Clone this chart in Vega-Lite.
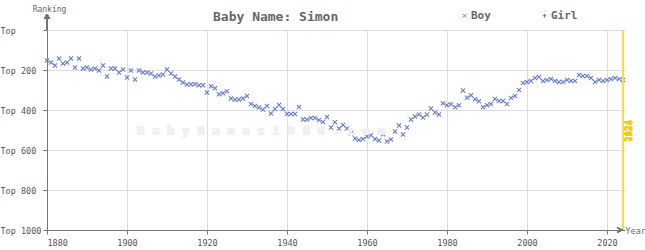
{
  "$schema": "https://vega.github.io/schema/vega-lite/v6.json",
  "width": 578,
  "height": 200,
  "autosize": {"type": "none"},
  "padding": {"left": 47, "top": 30, "right": 20, "bottom": 20},
  "background": "white",
  "title": {
    "text": "Baby Name: Simon",
    "anchor": "start",
    "dx": 213,
    "offset": -19,
    "font": "DejaVu Sans Mono",
    "fontSize": 13,
    "fontWeight": "bold",
    "color": "#666666"
  },
  "config": {
    "view": {"stroke": null},
    "font": "DejaVu Sans Mono"
  },
  "resolve": {"axis": {"x": "independent", "y": "independent"}},
  "data": {
    "values": [
      {"year": 1880, "rank": 152, "sex": "Boy"},
      {"year": 1881, "rank": 162, "sex": "Boy"},
      {"year": 1882, "rank": 177, "sex": "Boy"},
      {"year": 1883, "rank": 142, "sex": "Boy"},
      {"year": 1884, "rank": 167, "sex": "Boy"},
      {"year": 1885, "rank": 162, "sex": "Boy"},
      {"year": 1886, "rank": 142, "sex": "Boy"},
      {"year": 1887, "rank": 187, "sex": "Boy"},
      {"year": 1888, "rank": 142, "sex": "Boy"},
      {"year": 1889, "rank": 192, "sex": "Boy"},
      {"year": 1890, "rank": 187, "sex": "Boy"},
      {"year": 1891, "rank": 197, "sex": "Boy"},
      {"year": 1892, "rank": 192, "sex": "Boy"},
      {"year": 1893, "rank": 202, "sex": "Boy"},
      {"year": 1894, "rank": 177, "sex": "Boy"},
      {"year": 1895, "rank": 232, "sex": "Boy"},
      {"year": 1896, "rank": 192, "sex": "Boy"},
      {"year": 1897, "rank": 192, "sex": "Boy"},
      {"year": 1898, "rank": 212, "sex": "Boy"},
      {"year": 1899, "rank": 197, "sex": "Boy"},
      {"year": 1900, "rank": 237, "sex": "Boy"},
      {"year": 1901, "rank": 202, "sex": "Boy"},
      {"year": 1902, "rank": 247, "sex": "Boy"},
      {"year": 1903, "rank": 202, "sex": "Boy"},
      {"year": 1904, "rank": 212, "sex": "Boy"},
      {"year": 1905, "rank": 212, "sex": "Boy"},
      {"year": 1906, "rank": 217, "sex": "Boy"},
      {"year": 1907, "rank": 232, "sex": "Boy"},
      {"year": 1908, "rank": 227, "sex": "Boy"},
      {"year": 1909, "rank": 222, "sex": "Boy"},
      {"year": 1910, "rank": 197, "sex": "Boy"},
      {"year": 1911, "rank": 217, "sex": "Boy"},
      {"year": 1912, "rank": 232, "sex": "Boy"},
      {"year": 1913, "rank": 247, "sex": "Boy"},
      {"year": 1914, "rank": 262, "sex": "Boy"},
      {"year": 1915, "rank": 272, "sex": "Boy"},
      {"year": 1916, "rank": 271, "sex": "Boy"},
      {"year": 1917, "rank": 271, "sex": "Boy"},
      {"year": 1918, "rank": 276, "sex": "Boy"},
      {"year": 1919, "rank": 276, "sex": "Boy"},
      {"year": 1920, "rank": 312, "sex": "Boy"},
      {"year": 1921, "rank": 281, "sex": "Boy"},
      {"year": 1922, "rank": 291, "sex": "Boy"},
      {"year": 1923, "rank": 321, "sex": "Boy"},
      {"year": 1924, "rank": 316, "sex": "Boy"},
      {"year": 1925, "rank": 306, "sex": "Boy"},
      {"year": 1926, "rank": 342, "sex": "Boy"},
      {"year": 1927, "rank": 347, "sex": "Boy"},
      {"year": 1928, "rank": 347, "sex": "Boy"},
      {"year": 1929, "rank": 342, "sex": "Boy"},
      {"year": 1930, "rank": 330, "sex": "Boy"},
      {"year": 1931, "rank": 370, "sex": "Boy"},
      {"year": 1932, "rank": 380, "sex": "Boy"},
      {"year": 1933, "rank": 387, "sex": "Boy"},
      {"year": 1934, "rank": 397, "sex": "Boy"},
      {"year": 1935, "rank": 380, "sex": "Boy"},
      {"year": 1936, "rank": 417, "sex": "Boy"},
      {"year": 1937, "rank": 395, "sex": "Boy"},
      {"year": 1938, "rank": 375, "sex": "Boy"},
      {"year": 1939, "rank": 395, "sex": "Boy"},
      {"year": 1940, "rank": 420, "sex": "Boy"},
      {"year": 1941, "rank": 420, "sex": "Boy"},
      {"year": 1942, "rank": 420, "sex": "Boy"},
      {"year": 1943, "rank": 385, "sex": "Boy"},
      {"year": 1944, "rank": 447, "sex": "Boy"},
      {"year": 1945, "rank": 447, "sex": "Boy"},
      {"year": 1946, "rank": 440, "sex": "Boy"},
      {"year": 1947, "rank": 440, "sex": "Boy"},
      {"year": 1948, "rank": 450, "sex": "Boy"},
      {"year": 1949, "rank": 460, "sex": "Boy"},
      {"year": 1950, "rank": 435, "sex": "Boy"},
      {"year": 1951, "rank": 487, "sex": "Boy"},
      {"year": 1952, "rank": 461, "sex": "Boy"},
      {"year": 1953, "rank": 492, "sex": "Boy"},
      {"year": 1954, "rank": 475, "sex": "Boy"},
      {"year": 1955, "rank": 492, "sex": "Boy"},
      {"year": 1956, "rank": 516, "sex": "Boy"},
      {"year": 1957, "rank": 542, "sex": "Boy"},
      {"year": 1958, "rank": 550, "sex": "Boy"},
      {"year": 1959, "rank": 545, "sex": "Boy"},
      {"year": 1960, "rank": 532, "sex": "Boy"},
      {"year": 1961, "rank": 526, "sex": "Boy"},
      {"year": 1962, "rank": 545, "sex": "Boy"},
      {"year": 1963, "rank": 552, "sex": "Boy"},
      {"year": 1964, "rank": 521, "sex": "Boy"},
      {"year": 1965, "rank": 557, "sex": "Boy"},
      {"year": 1966, "rank": 547, "sex": "Boy"},
      {"year": 1967, "rank": 507, "sex": "Boy"},
      {"year": 1968, "rank": 477, "sex": "Boy"},
      {"year": 1969, "rank": 522, "sex": "Boy"},
      {"year": 1970, "rank": 487, "sex": "Boy"},
      {"year": 1971, "rank": 447, "sex": "Boy"},
      {"year": 1972, "rank": 432, "sex": "Boy"},
      {"year": 1973, "rank": 422, "sex": "Boy"},
      {"year": 1974, "rank": 437, "sex": "Boy"},
      {"year": 1975, "rank": 422, "sex": "Boy"},
      {"year": 1976, "rank": 392, "sex": "Boy"},
      {"year": 1977, "rank": 412, "sex": "Boy"},
      {"year": 1978, "rank": 422, "sex": "Boy"},
      {"year": 1979, "rank": 366, "sex": "Boy"},
      {"year": 1980, "rank": 376, "sex": "Boy"},
      {"year": 1981, "rank": 371, "sex": "Boy"},
      {"year": 1982, "rank": 386, "sex": "Boy"},
      {"year": 1983, "rank": 376, "sex": "Boy"},
      {"year": 1984, "rank": 302, "sex": "Boy"},
      {"year": 1985, "rank": 339, "sex": "Boy"},
      {"year": 1986, "rank": 326, "sex": "Boy"},
      {"year": 1987, "rank": 346, "sex": "Boy"},
      {"year": 1988, "rank": 356, "sex": "Boy"},
      {"year": 1989, "rank": 386, "sex": "Boy"},
      {"year": 1990, "rank": 376, "sex": "Boy"},
      {"year": 1991, "rank": 370, "sex": "Boy"},
      {"year": 1992, "rank": 345, "sex": "Boy"},
      {"year": 1993, "rank": 355, "sex": "Boy"},
      {"year": 1994, "rank": 355, "sex": "Boy"},
      {"year": 1995, "rank": 370, "sex": "Boy"},
      {"year": 1996, "rank": 340, "sex": "Boy"},
      {"year": 1997, "rank": 330, "sex": "Boy"},
      {"year": 1998, "rank": 300, "sex": "Boy"},
      {"year": 1999, "rank": 265, "sex": "Boy"},
      {"year": 2000, "rank": 260, "sex": "Boy"},
      {"year": 2001, "rank": 255, "sex": "Boy"},
      {"year": 2002, "rank": 240, "sex": "Boy"},
      {"year": 2003, "rank": 235, "sex": "Boy"},
      {"year": 2004, "rank": 255, "sex": "Boy"},
      {"year": 2005, "rank": 250, "sex": "Boy"},
      {"year": 2006, "rank": 245, "sex": "Boy"},
      {"year": 2007, "rank": 255, "sex": "Boy"},
      {"year": 2008, "rank": 260, "sex": "Boy"},
      {"year": 2009, "rank": 260, "sex": "Boy"},
      {"year": 2010, "rank": 250, "sex": "Boy"},
      {"year": 2011, "rank": 255, "sex": "Boy"},
      {"year": 2012, "rank": 255, "sex": "Boy"},
      {"year": 2013, "rank": 225, "sex": "Boy"},
      {"year": 2014, "rank": 230, "sex": "Boy"},
      {"year": 2015, "rank": 230, "sex": "Boy"},
      {"year": 2016, "rank": 240, "sex": "Boy"},
      {"year": 2017, "rank": 260, "sex": "Boy"},
      {"year": 2018, "rank": 250, "sex": "Boy"},
      {"year": 2019, "rank": 255, "sex": "Boy"},
      {"year": 2020, "rank": 250, "sex": "Boy"},
      {"year": 2021, "rank": 245, "sex": "Boy"},
      {"year": 2022, "rank": 240, "sex": "Boy"},
      {"year": 2023, "rank": 245, "sex": "Boy"},
      {"year": 2024, "rank": 250, "sex": "Boy"}
    ]
  },
  "layer": [
    {
      "mark": {"type": "point", "filled": false, "strokeWidth": 1.1, "size": 18, "opacity": 1},
      "encoding": {
        "x": {
          "field": "year",
          "type": "quantitative",
          "scale": {"domain": [1880, 2024.5], "nice": false, "zero": false},
          "axis": {
            "values": [1880, 1900, 1920, 1940, 1960, 1980, 2000, 2020],
            "format": "d",
            "grid": true,
            "gridColor": "#dddddd",
            "domainColor": "#777777",
            "tickColor": "#777777",
            "tickSize": 4,
            "labelFont": "DejaVu Sans Mono",
            "labelFontSize": 8.5,
            "labelColor": "#555555",
            "labelPadding": 4,
            "labelOverlap": false,
            "title": "Year",
            "titleFont": "DejaVu Sans Mono",
            "titleFontSize": 8.5,
            "titleFontWeight": "normal",
            "titleColor": "#666666",
            "titleAlign": "left",
            "titleBaseline": "middle",
            "titleX": 578,
            "titleY": 0
          }
        },
        "y": {
          "field": "rank",
          "type": "quantitative",
          "scale": {"domain": [0, 1000], "reverse": true, "nice": false, "zero": false},
          "axis": {
            "values": [0, 200, 400, 600, 800, 1000],
            "labelExpr": "datum.value == 0 ? 'Top' : 'Top ' + datum.value",
            "grid": true,
            "gridColor": "#dddddd",
            "domainColor": "#777777",
            "tickColor": "#777777",
            "tickSize": 4,
            "labelFont": "DejaVu Sans Mono",
            "labelFontSize": 8.5,
            "labelColor": "#555555",
            "labelAlign": "left",
            "labelPadding": 43,
            "labelOverlap": false,
            "title": "Ranking",
            "titleFont": "DejaVu Sans Mono",
            "titleFontSize": 8,
            "titleFontWeight": "normal",
            "titleColor": "#666666",
            "titleAngle": 0,
            "titleAlign": "center",
            "titleBaseline": "middle",
            "titleX": 2,
            "titleY": -21
          }
        },
        "color": {
          "field": "sex",
          "type": "nominal",
          "scale": {"domain": ["Boy", "Girl"], "range": ["#6a7cc8", "#c0506a"]},
          "legend": {
            "orient": "none",
            "legendX": 412,
            "legendY": -20,
            "direction": "horizontal",
            "title": null,
            "labelFont": "DejaVu Sans Mono",
            "labelFontSize": 11,
            "labelFontWeight": "bold",
            "labelColor": "#666666",
            "labelOffset": 1,
            "columnPadding": 48,
            "symbolSize": 12,
            "symbolStrokeWidth": 1
          }
        },
        "shape": {
          "field": "sex",
          "type": "nominal",
          "scale": {"domain": ["Boy", "Girl"], "range": ["M-1,-1L1,1M1,-1L-1,1", "M-1,0L1,0M0,-1L0,1"]},
          "legend": null
        }
      }
    },
    {
      "mark": {"type": "text", "fontSize": 12.5, "fontWeight": "bold", "color": "#f0f0f0", "font": "DejaVu Sans Mono"},
      "encoding": {
        "x": {"datum": 1933.5, "scale": {"domain": [1880, 2024.5], "nice": false, "zero": false}, "axis": null},
        "y": {"datum": 505, "scale": {"domain": [0, 1000], "reverse": true, "nice": false, "zero": false}, "axis": null},
        "text": {"value": "B a b y N a m e s 1 0 0 0 . c o m"}
      }
    },
    {
      "mark": {"type": "rule", "color": "#f7dc40", "strokeWidth": 1},
      "encoding": {
        "x": {"datum": 2024, "scale": {"domain": [1880, 2024.5], "nice": false, "zero": false}, "axis": null}
      }
    },
    {
      "mark": {"type": "text", "color": "#f0cc20", "angle": 270, "fontSize": 9, "dy": 6, "font": "DejaVu Sans Mono"},
      "encoding": {
        "x": {"datum": 2024, "scale": {"domain": [1880, 2024.5], "nice": false, "zero": false}, "axis": null},
        "y": {"datum": 505, "scale": {"domain": [0, 1000], "reverse": true, "nice": false, "zero": false}, "axis": null},
        "text": {"value": "2024"}
      }
    },
    {
      "mark": {"type": "rule", "color": "#777777", "strokeWidth": 1},
      "encoding": {
        "x": {"datum": 1880, "scale": {"domain": [1880, 2024.5], "nice": false, "zero": false}, "axis": null},
        "y": {"datum": 0, "scale": {"domain": [0, 1000], "reverse": true, "nice": false, "zero": false}, "axis": null},
        "y2": {"datum": -75}
      }
    },
    {
      "mark": {"type": "point", "filled": false, "color": "#777777", "strokeWidth": 1, "size": 20, "shape": "M-1,1L0,-1L1,1"},
      "encoding": {
        "x": {"datum": 1880, "scale": {"domain": [1880, 2024.5], "nice": false, "zero": false}, "axis": null},
        "y": {"datum": -68, "scale": {"domain": [0, 1000], "reverse": true, "nice": false, "zero": false}, "axis": null}
      }
    },
    {
      "mark": {"type": "point", "filled": false, "color": "#777777", "strokeWidth": 1, "size": 20, "shape": "M-1,-1L1,0L-1,1"},
      "encoding": {
        "x": {"datum": 2023.2, "scale": {"domain": [1880, 2024.5], "nice": false, "zero": false}, "axis": null},
        "y": {"datum": 1000, "scale": {"domain": [0, 1000], "reverse": true, "nice": false, "zero": false}, "axis": null}
      }
    }
  ]
}
